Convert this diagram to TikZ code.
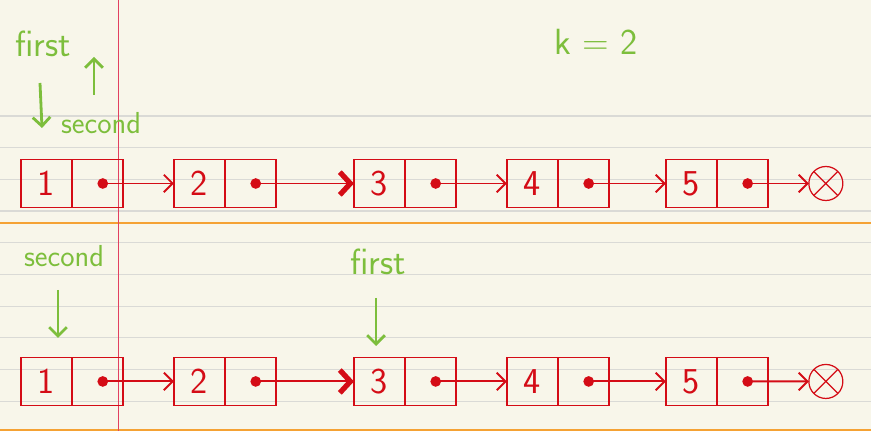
\documentclass[tikz,border=0pt]{standalone}
\usepackage{tikz}
\usetikzlibrary{positioning, arrows.meta}

\definecolor{paper}{RGB}{248,246,234}
\definecolor{rulegray}{RGB}{218,218,214}
\definecolor{ink}{RGB}{212,12,22}
\definecolor{pen}{RGB}{125,190,60}
\definecolor{marker}{RGB}{245,162,52}
\definecolor{margin}{RGB}{226,64,96}

\begin{document}
\begin{tikzpicture}[x=0.02cm, y=-0.02cm, >={Straight Barb[length=5pt, width=10pt]}]

  % Define list styles
  \tikzset{
    val/.style={draw=ink, line width=0.8pt, minimum width=1.02cm, minimum height=0.96cm,
      inner sep=0pt, outer sep=0pt, text=ink, font=\huge\sffamily},
    ptr/.style={draw=ink, line width=0.8pt, minimum width=1.02cm, minimum height=0.96cm,
      inner sep=0pt, outer sep=0pt},
    nil/.style={draw=ink, circle, line width=0.7pt, minimum size=0.68cm, inner sep=0pt, outer sep=0pt},
    link/.style={draw=ink, line width=1.1pt, {Circle[length=6pt]}->},
    boldlink/.style={link, {Circle[length=6pt]}-{Straight Barb[length=6pt, width=13pt, line width=3pt]}},
    tag/.style={text=pen, font=\LARGE\sffamily},
    pointer/.style={draw=pen, line width=1.6pt, ->},
  }

  \useasboundingbox (0,0) rectangle (871,431);

  % Paper
  \fill[paper] (0,0) rectangle (871,431);
  \foreach \y in {116,147.7,179.4,211,242.7,274.4,306.1,337.8,369.5,401.2}
    \draw[rulegray, line width=0.6pt] (0,\y) -- (871,\y);
  \draw[marker, line width=1.3pt] (0,223) -- (871,223);
  \draw[marker, line width=1.3pt] (0,430) -- (871,430);
  \draw[margin, line width=0.5pt] (118,0) -- (118,431);

  % Top list
  \node[val] (top1) at (46.5,183.5) {1};
  \node[ptr, right=0pt of top1] (topp1) {};
  \node[val, right=1.02cm of topp1] (top2) {2};
  \node[ptr, right=0pt of top2] (topp2) {};
  \node[val, right=1.56cm of topp2] (top3) {3};
  \node[ptr, right=0pt of top3] (topp3) {};
  \node[val, right=1.02cm of topp3] (top4) {4};
  \node[ptr, right=0pt of top4] (topp4) {};
  \node[val, right=1.14cm of topp4] (top5) {5};
  \node[ptr, right=0pt of top5] (topp5) {};
  \node[nil, right=0.82cm of topp5] (topnil) {};
  \draw[ink, line width=0.7pt] (topnil.north west) -- (topnil.south east)
    (topnil.north east) -- (topnil.south west);

  \draw[link] (topp1.center) -- (top2.west);
  \draw[boldlink] (topp2.center) -- (top3.west);
  \draw[link] (topp3.center) -- (top4.west);
  \draw[link] (topp4.center) -- (top5.west);
  \draw[link] (topp5.center) -- (topnil.west);

  % Bottom list
  \node[val, below=3cm of top1] (bot1) {1};
  \node[ptr, right=0pt of bot1] (botp1) {};
  \node[val, below=3cm of top2] (bot2) {2};
  \node[ptr, right=0pt of bot2] (botp2) {};
  \node[val, below=3cm of top3] (bot3) {3};
  \node[ptr, right=0pt of bot3] (botp3) {};
  \node[val, below=3cm of top4] (bot4) {4};
  \node[ptr, right=0pt of bot4] (botp4) {};
  \node[val, below=3cm of top5] (bot5) {5};
  \node[ptr, right=0pt of bot5] (botp5) {};
  \node[nil, below=3.28cm of topnil] (botnil) {};
  \draw[ink, line width=0.7pt] (botnil.north west) -- (botnil.south east)
    (botnil.north east) -- (botnil.south west);

  \draw[link] (botp1.center) -- (bot2.west);
  \draw[boldlink] (botp2.center) -- (bot3.west);
  \draw[link] (botp3.center) -- (bot4.west);
  \draw[link] (botp4.center) -- (bot5.west);
  \draw[link] (botp5.center) -- (botnil.west);

  % Labels
  \node[tag, font=\huge\sffamily] (first1) at (43,44) {first};
  \node[tag] (second1) at (101,123) {second};
  \node[tag, font=\huge\sffamily] (kval) at (596,42) {k = 2};
  \node[tag] (second2) at (64,256) {second};
  \node[tag, font=\huge\sffamily] (first2) at (378,262) {first};

  \coordinate (f1tail) at (40,83);
  \coordinate (f1head) at (42,128);
  \coordinate (s1tail) at (94,95);
  \coordinate (s1head) at (94,57);
  \coordinate (s2tail) at (58,290);
  \coordinate (s2head) at (58,338);
  \coordinate (f2tail) at (376,298);
  \coordinate (f2head) at (376,346);
  \draw[pointer] (f1tail) -- (f1head);
  \draw[pointer] (s1tail) -- (s1head);
  \draw[pointer] (s2tail) -- (s2head);
  \draw[pointer] (f2tail) -- (f2head);

\end{tikzpicture}
\end{document}
